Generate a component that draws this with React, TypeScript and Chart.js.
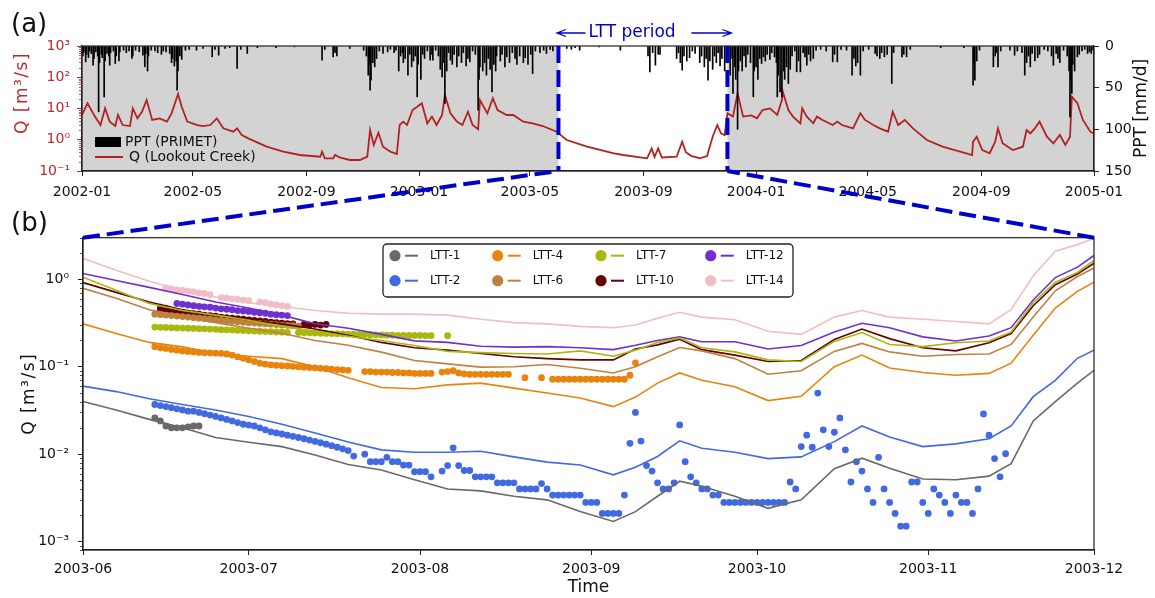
import React, { useEffect, useRef } from 'react';
import { Chart, registerables } from 'chart.js';

Chart.register(...registerables);

const FONT = "'DejaVu Sans', Verdana, sans-serif";
const BLUE = '#0000CD';
const QRED = '#B22222';
const LABEL_RED = '#C0282D';

// ================= Panel (a): PPT + Q, days since 2002-01-01 =================
const topTickDays = [0, 120, 243, 365, 485, 608, 730, 851, 974, 1096];
const topTickLabels = ['2002-01', '2002-05', '2002-09', '2003-01', '2003-05', '2003-09', '2004-01', '2004-05', '2004-09', '2005-01'];
const qMajor = [0.1, 1, 10, 100, 1000];
const qMajorLabels = ['10⁻¹', '10⁰', '10¹', '10²', '10³'];
const pptTicks = [0, 50, 100, 150];
const lttStartDay = 516; // 2003-06-01
const lttEndDay = 699;   // 2003-12-01

const qDays = [0, 6, 14, 20, 25, 30, 36, 39, 44, 52, 55, 60, 65, 70, 76, 84, 92, 97, 100, 104, 108, 114, 125, 131, 139, 146, 153, 164, 168, 173, 180, 200, 218, 236, 258, 260, 263, 272, 274, 279, 290, 301, 309, 312, 316, 321, 326, 334, 341, 344, 348, 352, 358, 363, 368, 374, 379, 384, 390, 393, 399, 406, 412, 418, 423, 429, 431, 439, 445, 450, 460, 467, 478, 488, 499, 514, 525, 547, 575, 586, 612, 617, 620, 624, 628, 644, 650, 654, 660, 665, 669, 677, 683, 688, 692, 696, 699, 705, 710, 716, 725, 731, 737, 745, 753, 758, 759, 765, 770, 778, 780, 785, 792, 796, 802, 813, 818, 823, 835, 843, 848, 857, 864, 873, 878, 884, 891, 900, 915, 932, 951, 964, 965, 969, 975, 983, 989, 992, 997, 1008, 1019, 1023, 1027, 1032, 1037, 1045, 1052, 1059, 1065, 1070, 1072, 1078, 1084, 1092, 1096];
const qValues = [6.2, 14.7, 5.5, 2.96, 10.1, 3.8, 2.75, 6.2, 2.96, 2.75, 10.1, 4.85, 7.9, 18.7, 4.3, 4.85, 3.8, 7.0, 12.9, 29.1, 11.4, 3.8, 2.96, 2.75, 2.96, 4.85, 2.32, 1.81, 2.32, 1.42, 1.11, 0.60, 0.415, 0.325, 0.287, 0.415, 0.255, 0.255, 0.325, 0.274, 0.225, 0.225, 0.287, 2.05, 0.68, 1.68, 0.60, 0.415, 0.35, 2.96, 3.8, 2.96, 8.95, 11.4, 14.7, 3.36, 5.5, 2.96, 6.2, 27, 7.0, 3.8, 2.96, 7.9, 2.96, 2.16, 18.7, 7.0, 21.2, 8.95, 6.2, 6.2, 3.8, 3.36, 2.75, 1.81, 0.98, 0.60, 0.37, 0.325, 0.255, 0.53, 0.28, 0.53, 0.27, 0.287, 0.87, 0.40, 0.30, 0.28, 0.255, 0.30, 1.25, 2.96, 1.6, 1.4, 7.0, 5.5, 30.6, 5.5, 6.0, 4.85, 8.95, 10.1, 6.2, 18.7, 34.5, 8.95, 5.5, 3.36, 10.1, 5.5, 3.36, 5.5, 4.3, 2.96, 3.8, 2.96, 2.32, 7.0, 4.3, 2.96, 2.32, 1.81, 7.9, 2.96, 4.3, 2.32, 0.98, 0.60, 0.415, 0.325, 0.87, 1.25, 0.47, 0.37, 0.87, 2.32, 0.77, 0.47, 0.60, 2.05, 1.6, 2.32, 3.8, 1.25, 0.77, 1.42, 0.68, 1.25, 23.9, 14.7, 4.3, 1.81, 1.55];

const pptDays = [1, 2, 4, 5, 7, 8, 10, 12, 13, 15, 17, 18, 19, 21, 22, 24, 25, 27, 29, 30, 31, 34, 36, 37, 40, 41, 45, 48, 51, 54, 55, 58, 62, 66, 68, 69, 71, 72, 75, 79, 82, 86, 88, 91, 95, 97, 98, 100, 102, 103, 104, 106, 108, 112, 116, 124, 131, 141, 144, 148, 155, 160, 168, 172, 179, 190,
  210, 230, 260, 263, 272, 274, 276, 290, 305, 308, 310, 311, 312, 313, 315, 317, 319, 322, 326, 331, 334, 338, 340,
  343, 345, 347, 348, 350, 353, 355, 357, 359, 361, 363, 364, 367, 369, 371, 374, 377, 379, 380, 383, 386, 388, 390, 392, 393, 395, 397, 399, 401, 403, 406, 408, 411, 413, 416, 418, 420, 423, 426, 429, 430, 431, 434, 436, 438, 440, 442, 444, 446, 448, 449, 453, 455, 458, 460, 463, 466, 469, 471, 474, 478, 480, 483, 486, 488, 491, 496, 500, 503, 507, 510,
  525, 530, 534, 539, 560, 583, 613, 615, 618, 621, 624, 626, 644, 646, 648, 650, 652, 655, 658, 661, 664, 669, 671, 674, 676, 678, 680, 683, 685, 687, 689, 691, 693, 696, 698,
  700, 702, 704, 705, 707, 708, 710, 711, 713, 715, 717, 719, 721, 724, 727, 728, 730, 732, 734, 736, 738, 740, 742, 745, 747, 750, 752, 753, 754, 756, 758, 760, 761, 763, 765, 767, 769, 772, 774, 776, 778, 781, 783, 785, 787, 789, 792, 795, 800, 806, 813, 815, 818, 822, 828, 834, 836, 838, 840, 843, 846, 852, 859, 861, 864, 866, 869, 872, 877, 879, 888, 890, 893, 897,
  930, 955, 965, 966, 967, 969, 972, 987, 989, 990, 992, 995,
  1005, 1010, 1013, 1018, 1021, 1023, 1025, 1027, 1029, 1032, 1035, 1037, 1042, 1046, 1050, 1052, 1055, 1057, 1059, 1063, 1067, 1069, 1070, 1071, 1072, 1073, 1075, 1078, 1080, 1083, 1086, 1089, 1091, 1093, 1095];
const pptMM = [12, 8, 19, 10, 14, 6, 9, 23, 15, 7, 12, 79, 20, 10, 14, 61, 18, 9, 12, 23, 8, 6, 21, 12, 18, 7, 5, 8, 6, 15, 12, 5, 7, 11, 25, 9, 30, 12, 5, 6, 8, 10, 6, 7, 9, 20, 15, 24, 18, 53, 30, 12, 16, 5, 4, 5, 3, 13, 4, 11, 3, 2, 27, 4, 9, 2,
  2, 1, 17, 4, 13, 8, 12, 3, 5, 12, 35, 22, 53, 41, 20, 25, 15, 6, 9, 7, 4, 8, 5,
  30, 12, 8, 20, 15, 35, 10, 25, 18, 12, 61, 22, 40, 10, 15, 6, 17, 10, 17, 5, 12, 28, 37, 20, 69, 30, 8, 17, 22, 10, 25, 12, 20, 8, 24, 15, 19, 6, 10, 77, 40, 25, 30, 20, 35, 15, 28, 55, 22, 30, 12, 18, 10, 25, 13, 20, 8, 15, 22, 12, 20, 14, 22, 10, 33, 6, 8, 5, 9, 4, 6,
  3, 4, 2, 5, 1, 5, 12, 31, 8, 23, 10, 10, 15, 8, 20, 29, 12, 18, 14, 6, 9, 20, 12, 25, 15, 41, 18, 28, 12, 20, 8, 24, 15, 30, 18,
  20, 35, 15, 57, 25, 40, 100, 30, 18, 30, 12, 25, 10, 20, 61, 30, 25, 40, 15, 21, 13, 18, 10, 16, 8, 13, 20, 61, 35, 55, 61, 30, 40, 25, 45, 28, 12, 6, 31, 18, 31, 8, 13, 23, 10, 18, 15, 5, 4, 6, 19, 10, 19, 4, 5, 35, 15, 24, 20, 35, 6, 4, 9, 12, 15, 8, 13, 10, 45, 8, 13, 10, 13, 4,
  2, 2, 47, 20, 41, 18, 5, 25, 12, 8, 25, 6,
  5, 11, 6, 8, 35, 20, 12, 25, 9, 18, 14, 10, 4, 6, 12, 23, 9, 15, 20, 5, 12, 30, 85, 40, 57, 22, 30, 13, 10, 6, 4, 9, 7, 9, 5];

// ================= Panel (b): LTT wells, days since 2003-06-01 =================
const botTickDays = [0, 30, 61, 92, 122, 153, 183];
const botTickLabels = ['2003-06', '2003-07', '2003-08', '2003-09', '2003-10', '2003-11', '2003-12'];
const botMajor = [0.001, 0.01, 0.1, 1];
const botMajorLabels = ['10⁻³', '10⁻²', '10⁻¹', '10⁰'];

const siteNames = ['LTT-1', 'LTT-2', 'LTT-4', 'LTT-6', 'LTT-7', 'LTT-10', 'LTT-12', 'LTT-14'];
const siteColors = ['#696969', '#4169E1', '#E8830C', '#C08040', '#A8B90E', '#640000', '#7030D0', '#F2BDC4'];

const simDays = [0, 6, 12, 18, 24, 30, 36, 42, 48, 54, 60, 66, 72, 78, 84, 90, 96, 100, 104, 108, 112, 118, 124, 130, 136, 141, 146, 152, 158, 164, 168, 172, 176, 180, 183];
const simLTT1 = [0.040, 0.032, 0.025, 0.020, 0.0155, 0.0137, 0.0122, 0.0098, 0.0076, 0.0066, 0.0051, 0.0040, 0.0038, 0.0033, 0.0030, 0.0022, 0.0017, 0.0022, 0.0033, 0.0049, 0.0043, 0.0033, 0.0024, 0.0030, 0.0068, 0.0090, 0.0069, 0.0052, 0.0051, 0.0056, 0.0078, 0.024, 0.040, 0.065, 0.091];
const simLTT2 = [0.060, 0.052, 0.043, 0.037, 0.032, 0.027, 0.022, 0.0175, 0.0138, 0.0112, 0.0105, 0.0105, 0.0108, 0.0093, 0.0081, 0.0075, 0.0058, 0.0071, 0.0094, 0.0142, 0.0117, 0.0105, 0.0089, 0.0093, 0.0139, 0.021, 0.0157, 0.0122, 0.0131, 0.0150, 0.021, 0.0455, 0.070, 0.125, 0.155];
const simLTT4 = [0.31, 0.24, 0.19, 0.169, 0.142, 0.132, 0.124, 0.10, 0.075, 0.058, 0.056, 0.062, 0.065, 0.057, 0.050, 0.044, 0.035, 0.045, 0.065, 0.085, 0.070, 0.059, 0.041, 0.046, 0.10, 0.136, 0.097, 0.086, 0.080, 0.084, 0.11, 0.23, 0.47, 0.73, 0.93];
const simLTT6 = [0.79, 0.61, 0.45, 0.38, 0.32, 0.276, 0.242, 0.20, 0.176, 0.147, 0.118, 0.108, 0.099, 0.100, 0.106, 0.096, 0.085, 0.10, 0.13, 0.166, 0.152, 0.124, 0.082, 0.09, 0.15, 0.185, 0.148, 0.132, 0.138, 0.14, 0.18, 0.37, 0.74, 1.08, 1.35];
const simLTT7 = [1.06, 0.75, 0.53, 0.44, 0.39, 0.34, 0.29, 0.255, 0.224, 0.20, 0.175, 0.15, 0.145, 0.142, 0.14, 0.152, 0.132, 0.155, 0.19, 0.214, 0.165, 0.148, 0.12, 0.115, 0.195, 0.246, 0.18, 0.17, 0.188, 0.197, 0.25, 0.54, 0.93, 1.2, 1.65];
const simLTT10 = [0.92, 0.71, 0.55, 0.45, 0.39, 0.34, 0.31, 0.27, 0.23, 0.19, 0.165, 0.155, 0.142, 0.13, 0.124, 0.12, 0.12, 0.16, 0.178, 0.207, 0.157, 0.136, 0.115, 0.118, 0.205, 0.27, 0.21, 0.165, 0.152, 0.188, 0.24, 0.50, 0.87, 1.15, 1.53];
const simLTT12 = [1.17, 0.97, 0.81, 0.67, 0.55, 0.47, 0.39, 0.31, 0.276, 0.235, 0.198, 0.19, 0.172, 0.168, 0.17, 0.165, 0.157, 0.176, 0.2, 0.22, 0.193, 0.193, 0.16, 0.175, 0.25, 0.315, 0.28, 0.22, 0.197, 0.225, 0.28, 0.58, 1.05, 1.38, 1.88];
const simLTT14 = [1.74, 1.27, 0.95, 0.75, 0.63, 0.54, 0.49, 0.44, 0.41, 0.40, 0.40, 0.39, 0.35, 0.32, 0.31, 0.29, 0.28, 0.30, 0.36, 0.42, 0.37, 0.345, 0.255, 0.235, 0.37, 0.44, 0.37, 0.35, 0.33, 0.31, 0.45, 1.1, 2.1, 2.5, 2.94];

// observed (daily, starting at the given day; null = no measurement)
const obsLTT1Start = 13;
const obsLTT1 = [0.026, 0.024, 0.021, 0.020, 0.020, 0.020, 0.0205, 0.021, 0.021];
const obsLTT2Start = 13;
const obsLTT2 = [0.037, 0.036, 0.035, 0.034, 0.033, 0.032, 0.031, 0.031, 0.030, 0.029, 0.028, 0.027, 0.026, 0.025, 0.024, 0.023, 0.022, 0.0215, 0.021, 0.020, 0.019, 0.018, 0.0175, 0.017, 0.0165, 0.016, 0.0155, 0.015, 0.0145, 0.014, 0.0135, 0.013, 0.0125, 0.012, 0.0115, 0.011, 0.0095,
  null, 0.010, 0.0082, 0.0082, 0.0082, 0.0092, 0.0082, 0.0082, 0.0075, 0.0075, 0.0063, 0.0063, 0.0063, 0.0055, null, 0.0064, 0.0074, 0.0118, 0.0074, 0.0065, 0.0065,
  0.0055, 0.0055, 0.0055, 0.0055, 0.0047, 0.0047, 0.0047, 0.0047, 0.0040, 0.0040, 0.0040, 0.0040, 0.0046, 0.0040, 0.0034, 0.0034, 0.0034, 0.0034, 0.0034, 0.0034,
  0.0028, 0.0028, 0.0028, 0.0021, 0.0021, 0.0021, 0.0021, 0.0034, 0.0133, 0.030, 0.0141, 0.0074, 0.0064, 0.0047, 0.0040, 0.0040, 0.0047, 0.0216, 0.0082, 0.0055, 0.0047, 0.0040, 0.0040, 0.0034, 0.0034,
  0.0028, 0.0028, 0.0028, 0.0028, 0.0028, 0.0028, 0.0028, 0.0028, 0.0028, 0.0028, 0.0028, 0.0028,
  0.0048, 0.0040, 0.0122, 0.0165, 0.0120, 0.050, 0.019, 0.0122, 0.0178, 0.026, 0.0112, 0.0048, 0.0082, 0.0064, 0.0040, 0.0028, 0.0092, 0.0040, 0.0028, 0.0021, 0.0015, 0.0015,
  0.0048, 0.0048, 0.0028, 0.0021, 0.0040, 0.0034, 0.0028, 0.0021, 0.0034, 0.0028, 0.0028, 0.0021, 0.0040, 0.0288, 0.0165, 0.0089, 0.0055, 0.0101];
const obsLTT4Start = 13;
const obsLTT4 = [0.17, 0.165, 0.162, 0.158, 0.155, 0.152, 0.15, 0.148, 0.146, 0.145, 0.144, 0.143, 0.142, 0.14, 0.136, 0.13, 0.125, 0.12, 0.115, 0.11, 0.107, 0.105, 0.104, 0.103, 0.102, 0.101, 0.1, 0.099, 0.098, 0.097, 0.096, 0.095, 0.094, 0.093, 0.092, 0.091,
  null, null, 0.088, 0.088, 0.087, 0.087, 0.087, 0.086, 0.086, 0.085, 0.085, 0.084, 0.084, 0.084, 0.084, null, 0.087, 0.088, 0.09, 0.085, 0.083, 0.082, 0.082, 0.082, 0.082, 0.082, 0.082, 0.082, 0.082,
  null, null, 0.075, null, null, 0.075, null, 0.072, 0.072, 0.072, 0.072, 0.072, 0.072, 0.072, 0.072, 0.072, 0.072, 0.072, 0.072, 0.072, 0.072, 0.08, 0.111];
const obsLTT6Start = 13;
const obsLTT6 = [0.40, 0.395, 0.39, 0.385, 0.38, 0.375, 0.37, 0.365, 0.36, 0.355, 0.35, 0.345, 0.34, 0.335, 0.33, 0.327, 0.323, 0.32, 0.316, 0.313, 0.31, 0.307, 0.304, 0.30, 0.298, 0.295, 0.292];
const obsLTT7Start = 13;
const obsLTT7 = [0.285, 0.283, 0.282, 0.28, 0.278, 0.277, 0.276, 0.275, 0.273, 0.272, 0.27, 0.268, 0.266, 0.265, 0.263, 0.261, 0.26, 0.258, 0.256, 0.255, 0.253, 0.252, 0.25, 0.249, 0.248, null, 0.246, 0.245, 0.244, 0.243, 0.242, 0.241, 0.24, 0.239, 0.238, 0.237, 0.236, 0.235, 0.234, 0.233, 0.232, 0.231, 0.23, 0.23, 0.229, 0.229, 0.228, 0.228, 0.228, 0.227, 0.227, null, null, 0.227];
const obsLTT10Start = 14;
const obsLTT10 = [0.45, 0.44, 0.435, 0.43, 0.42, 0.41, 0.405, 0.40, 0.39, 0.385, 0.38, 0.37, 0.365, 0.36, 0.355, 0.35, 0.345, 0.34, 0.335, 0.33, 0.325, 0.32, 0.315, 0.312, 0.31, null, 0.305, 0.30, 0.305, 0.30, 0.305];
const obsLTT12Start = 14;
const obsLTT12 = [0.48, 0.47, null, 0.53, 0.52, 0.51, 0.50, 0.49, 0.485, 0.48, 0.47, 0.46, 0.455, 0.45, 0.44, 0.435, 0.43, 0.42, 0.415, 0.41, 0.40, 0.395, 0.39, 0.385];
const obsLTT14Start = 15;
const obsLTT14 = [0.80, 0.78, 0.76, 0.75, 0.74, 0.72, 0.70, 0.69, 0.67, null, 0.62, 0.61, 0.60, 0.59, 0.58, 0.57, null, 0.55, 0.54, 0.52, 0.51, 0.50, 0.49];

const simSeries = [simLTT1, simLTT2, simLTT4, simLTT6, simLTT7, simLTT10, simLTT12, simLTT14];
const obsSeries = [obsLTT1, obsLTT2, obsLTT4, obsLTT6, obsLTT7, obsLTT10, obsLTT12, obsLTT14];
const obsStarts = [obsLTT1Start, obsLTT2Start, obsLTT4Start, obsLTT6Start, obsLTT7Start, obsLTT10Start, obsLTT12Start, obsLTT14Start];

// ================= helpers =================
const BOT_OFFSET = 200;

function majorLabel(v: number, majors: number[], labels: string[]) {
  const i = majors.findIndex((m) => Math.abs(Math.log10(m) - Math.log10(v)) < 1e-6);
  return i >= 0 ? labels[i] : '';
}

function drawFrame(chart: any) {
  const { ctx, chartArea: a } = chart;
  ctx.save();
  ctx.strokeStyle = '#222';
  ctx.lineWidth = 1.2;
  ctx.strokeRect(a.left, a.top, a.right - a.left, a.bottom - a.top);
  ctx.restore();
}

function drawLogMinor(ctx: any, scale: any, x: number, len: number, color: string) {
  ctx.save();
  ctx.strokeStyle = color;
  ctx.lineWidth = 0.8;
  ctx.beginPath();
  const lo = Math.floor(Math.log10(scale.min));
  const hi = Math.ceil(Math.log10(scale.max));
  for (let e = lo; e <= hi; e++) {
    for (let m = 2; m <= 9; m++) {
      const v = m * Math.pow(10, e);
      if (v < scale.min || v > scale.max) continue;
      const y = Math.round(scale.getPixelForValue(v)) + 0.5;
      ctx.moveTo(x, y);
      ctx.lineTo(x - len, y);
    }
  }
  ctx.stroke();
  ctx.restore();
}

function rotText(ctx: any, text: string, x: number, y: number, font: string, color: string, spacing: string) {
  ctx.save();
  ctx.translate(x, y);
  ctx.rotate(-Math.PI / 2);
  ctx.font = font;
  ctx.fillStyle = color;
  ctx.textAlign = 'center';
  ctx.textBaseline = 'middle';
  try { ctx.letterSpacing = spacing; } catch (e) { /* ignore */ }
  ctx.fillText(text, 0, 0);
  ctx.restore();
}

const topDecor = {
  id: 'topDecor',
  beforeDraw(chart: any) {
    const { ctx, chartArea: a, scales } = chart;
    ctx.save();
    ctx.fillStyle = '#D3D3D3';
    ctx.fillRect(a.left, a.top, a.right - a.left, a.bottom - a.top);
    const x1 = scales.x.getPixelForValue(lttStartDay);
    const x2 = scales.x.getPixelForValue(lttEndDay);
    ctx.fillStyle = '#FFFFFF';
    ctx.fillRect(x1, a.top, x2 - x1, a.bottom - a.top);
    ctx.restore();
  },
  afterDatasetsDraw(chart: any) {
    const { ctx, chartArea: a, scales } = chart;
    drawFrame(chart);
    drawLogMinor(ctx, scales.yQ, a.left, 3, LABEL_RED);
    // legend
    ctx.save();
    ctx.fillStyle = '#000';
    ctx.fillRect(95, 137, 26, 10);
    ctx.strokeStyle = QRED;
    ctx.lineWidth = 2;
    ctx.beginPath();
    ctx.moveTo(95, 157);
    ctx.lineTo(123, 157);
    ctx.stroke();
    ctx.font = `14px ${FONT}`;
    ctx.fillStyle = '#111';
    ctx.textBaseline = 'middle';
    ctx.textAlign = 'left';
    ctx.fillText('PPT (PRIMET)', 125, 142.5);
    ctx.fillText('Q (Lookout Creek)', 129, 157.5);
    ctx.restore();
    // axis titles
    rotText(ctx, 'Q [m³/s]', 23, 93, `17px ${FONT}`, LABEL_RED, '1.5px');
    rotText(ctx, 'PPT [mm/d]', 1142, (a.top + a.bottom) / 2, `17px ${FONT}`, '#111', '0px');
  },
};

const botDecor = {
  id: 'botDecor',
  afterDatasetsDraw(chart: any) {
    const { ctx, chartArea: a, scales } = chart;
    drawFrame(chart);
    drawLogMinor(ctx, scales.y, a.left, 3, '#222');
    // legend box
    const bx = 383, by = 244 - BOT_OFFSET, bw = 410, bh = 53;
    ctx.save();
    ctx.beginPath();
    ctx.roundRect(bx, by, bw, bh, 4);
    ctx.fillStyle = 'rgba(255,255,255,0.95)';
    ctx.fill();
    ctx.strokeStyle = '#222';
    ctx.lineWidth = 1.3;
    ctx.stroke();
    const colX = [395, 497.7, 601, 710.7];
    const rowY = [255.7 - BOT_OFFSET, 280.7 - BOT_OFFSET];
    ctx.font = `12px ${FONT}`;
    ctx.textBaseline = 'middle';
    ctx.textAlign = 'left';
    siteNames.forEach((name, i) => {
      const cx = colX[Math.floor(i / 2)];
      const cy = rowY[i % 2];
      ctx.fillStyle = siteColors[i];
      ctx.beginPath();
      ctx.arc(cx, cy, 5.6, 0, Math.PI * 2);
      ctx.fill();
      ctx.strokeStyle = siteColors[i];
      ctx.lineWidth = 2;
      ctx.beginPath();
      ctx.moveTo(cx + 10, cy);
      ctx.lineTo(cx + 23, cy);
      ctx.stroke();
      ctx.fillStyle = '#111';
      ctx.fillText(name, cx + 35, cy + 0.5);
    });
    ctx.restore();
    // axis titles
    rotText(ctx, 'Q [m³/s]', 30, (a.top + a.bottom) / 2, `17px ${FONT}`, '#111', '1.5px');
    ctx.save();
    ctx.font = `17px ${FONT}`;
    ctx.fillStyle = '#111';
    ctx.textAlign = 'center';
    ctx.textBaseline = 'middle';
    ctx.fillText('Time', (a.left + a.right) / 2, 588 - BOT_OFFSET);
    ctx.restore();
  },
};

function drawOverlay(cv: HTMLCanvasElement, top: any, bot: any) {
  const ctx = cv.getContext('2d') as any;
  ctx.clearRect(0, 0, cv.width, cv.height);
  const ta = top.chartArea;
  const ba = bot.chartArea;
  const xs = top.scales.x.getPixelForValue(lttStartDay);
  const xe = top.scales.x.getPixelForValue(lttEndDay);
  const bTop = BOT_OFFSET + ba.top;
  ctx.save();
  ctx.strokeStyle = BLUE;
  ctx.lineWidth = 4;
  ctx.setLineDash([17, 7]);
  const seg = (x1: number, y1: number, x2: number, y2: number) => {
    ctx.beginPath();
    ctx.moveTo(x1, y1);
    ctx.lineTo(x2, y2);
    ctx.stroke();
  };
  seg(xs, ta.top, xs, ta.bottom);
  seg(xe, ta.top, xe, ta.bottom);
  seg(ba.left, bTop, xs, ta.bottom);
  seg(ba.right, bTop, xe, ta.bottom);
  // arrows
  ctx.setLineDash([]);
  ctx.lineWidth = 1.3;
  const ay = 33;
  const arrow = (from: number, tip: number) => {
    const dir = tip > from ? 1 : -1;
    ctx.beginPath();
    ctx.moveTo(from, ay);
    ctx.lineTo(tip, ay);
    ctx.moveTo(tip - dir * 9, ay - 3.5);
    ctx.lineTo(tip, ay);
    ctx.lineTo(tip - dir * 9, ay + 3.5);
    ctx.stroke();
  };
  arrow(xs + 27, xs - 1.5);
  arrow(xe - 36, xe + 4);
  ctx.fillStyle = BLUE;
  ctx.font = `17px ${FONT}`;
  ctx.textAlign = 'left';
  ctx.textBaseline = 'middle';
  ctx.fillText('LTT period', xs + 30, ay);
  // panel letters
  ctx.fillStyle = '#111';
  ctx.font = `26px ${FONT}`;
  ctx.fillText('(a)', 11, 25);
  ctx.fillText('(b)', 11, 224);
  ctx.restore();
}

export default function App() {
  const topRef = useRef<HTMLCanvasElement>(null);
  const botRef = useRef<HTMLCanvasElement>(null);
  const ovRef = useRef<HTMLCanvasElement>(null);

  useEffect(() => {
    Chart.defaults.font.family = FONT;
    Chart.defaults.font.size = 14;
    Chart.defaults.color = '#111';

    const commonX = (days: number[], labels: string[], padding: number) => ({
      type: 'linear',
      min: days[0],
      max: days[days.length - 1],
      offset: false,
      afterBuildTicks: (s: any) => { s.ticks = days.map((v) => ({ value: v })); },
      ticks: {
        autoSkip: false,
        maxRotation: 0,
        padding,
        color: '#111',
        font: { size: 14 },
        callback: (_v: any, i: number) => labels[i],
      },
      grid: { display: true, offset: false, drawOnChartArea: false, drawTicks: true, tickLength: 5, tickColor: '#222', tickWidth: 1 },
      border: { display: true, color: '#222', width: 1.2 },
    });

    const top = new Chart(topRef.current as HTMLCanvasElement, {
      type: 'line',
      data: {
        datasets: [
          {
            type: 'bar',
            label: 'PPT (PRIMET)',
            data: pptDays.map((d, i) => ({ x: d, y: pptMM[i] })),
            xAxisID: 'x',
            yAxisID: 'yP',
            backgroundColor: '#000',
            borderWidth: 0,
            barThickness: 1,
            order: 0,
          } as any,
          {
            type: 'line',
            label: 'Q (Lookout Creek)',
            data: qDays.map((d, i) => ({ x: d, y: qValues[i] })),
            xAxisID: 'x',
            yAxisID: 'yQ',
            borderColor: QRED,
            borderWidth: 1.8,
            pointRadius: 0,
            tension: 0,
            order: 1,
          },
        ],
      },
      options: {
        responsive: false,
        maintainAspectRatio: false,
        devicePixelRatio: 1,
        animation: false,
        events: [],
        layout: { padding: { top: 46, left: 0, right: 0, bottom: 0 } },
        plugins: { legend: { display: false }, tooltip: { enabled: false } },
        scales: {
          x: { ...commonX(topTickDays, topTickLabels, 8), afterFit: (s: any) => { s.height = 34; } } as any,
          yQ: {
            type: 'logarithmic',
            position: 'left',
            min: 0.1,
            max: 1000,
            afterBuildTicks: (s: any) => { s.ticks = qMajor.map((v) => ({ value: v })); },
            afterFit: (s: any) => { s.width = 82; },
            ticks: { color: LABEL_RED, padding: 7, font: { size: 14 }, callback: (v: any) => majorLabel(v, qMajor, qMajorLabels) },
            grid: { display: true, drawOnChartArea: false, drawTicks: true, tickLength: 5, tickColor: LABEL_RED },
            border: { display: true, color: '#222', width: 1.2 },
          } as any,
          yP: {
            type: 'linear',
            position: 'right',
            min: 0,
            max: 150,
            reverse: true,
            beginAtZero: true,
            afterBuildTicks: (s: any) => { s.ticks = pptTicks.map((v) => ({ value: v })); },
            afterFit: (s: any) => { s.width = 61; },
            ticks: { color: '#111', padding: 6, font: { size: 14 } },
            grid: { display: true, drawOnChartArea: false, drawTicks: true, tickLength: 5, tickColor: '#222' },
            border: { display: true, color: '#222', width: 1.2 },
          } as any,
        },
      },
      plugins: [topDecor],
    } as any);

    const obsSets = obsSeries.map((arr, k) => ({
      type: 'line',
      label: siteNames[k] + ' obs',
      data: arr
        .map((v, i) => (v == null ? null : { x: obsStarts[k] + i, y: v }))
        .filter((p) => p !== null),
      showLine: false,
      pointRadius: 3.4,
      pointBorderWidth: 0,
      pointBackgroundColor: siteColors[k],
      borderColor: siteColors[k],
      order: 2,
    }));
    const simSets = simSeries.map((arr, k) => ({
      type: 'line',
      label: siteNames[k],
      data: arr.map((v, i) => ({ x: simDays[i], y: v })),
      borderColor: siteColors[k],
      borderWidth: 1.6,
      pointRadius: 0,
      tension: 0,
      order: 1,
    }));

    const bot = new Chart(botRef.current as HTMLCanvasElement, {
      type: 'line',
      data: { datasets: [...obsSets, ...simSets] as any },
      options: {
        responsive: false,
        maintainAspectRatio: false,
        devicePixelRatio: 1,
        animation: false,
        events: [],
        layout: { padding: { top: 237.7 - BOT_OFFSET, left: 0, right: 61, bottom: 0 } },
        plugins: { legend: { display: false }, tooltip: { enabled: false } },
        scales: {
          x: { ...commonX(botTickDays, botTickLabels, 6), afterFit: (s: any) => { s.height = 48; } } as any,
          y: {
            type: 'logarithmic',
            position: 'left',
            min: 0.0008,
            max: 3.0,
            afterBuildTicks: (s: any) => { s.ticks = botMajor.map((v) => ({ value: v })); },
            afterFit: (s: any) => { s.width = 83; },
            ticks: { color: '#111', padding: 9, font: { size: 14 }, callback: (v: any) => majorLabel(v, botMajor, botMajorLabels) },
            grid: { display: true, drawOnChartArea: false, drawTicks: true, tickLength: 5, tickColor: '#222' },
            border: { display: true, color: '#222', width: 1.2 },
          } as any,
        },
      },
      plugins: [botDecor],
    } as any);

    if (ovRef.current) drawOverlay(ovRef.current, top, bot);

    return () => {
      top.destroy();
      bot.destroy();
    };
  }, []);

  return (
    <div style={{ position: 'fixed', left: 0, top: 0, width: 1155, height: 598, background: '#fff', overflow: 'hidden' }}>
      <canvas ref={topRef} width={1155} height={205} style={{ position: 'absolute', left: 0, top: 0, width: 1155, height: 205 }} />
      <canvas ref={botRef} width={1155} height={398} style={{ position: 'absolute', left: 0, top: BOT_OFFSET, width: 1155, height: 398 }} />
      <canvas ref={ovRef} width={1155} height={598} style={{ position: 'absolute', left: 0, top: 0, width: 1155, height: 598, pointerEvents: 'none' }} />
    </div>
  );
}
